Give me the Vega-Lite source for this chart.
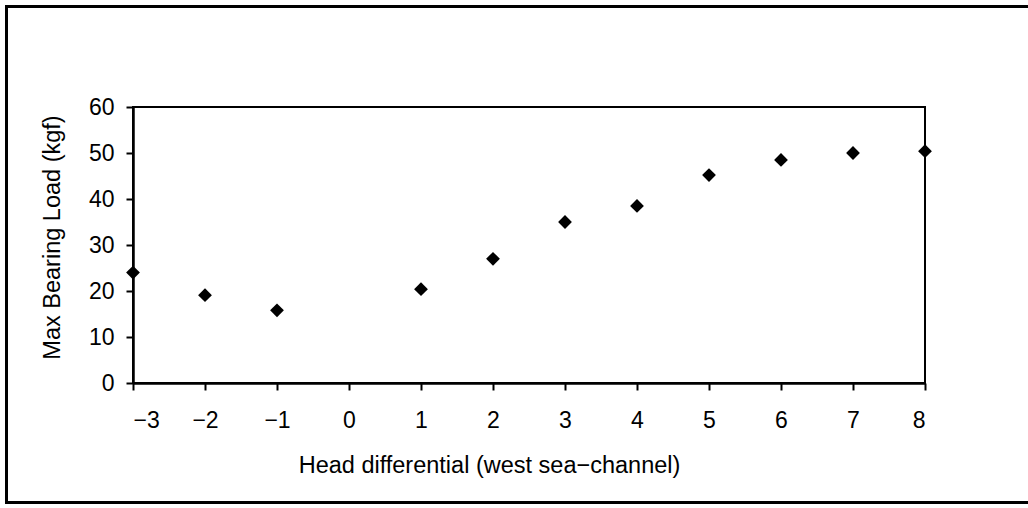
{
  "$schema": "https://vega.github.io/schema/vega-lite/v6.json",
  "autosize": {"type": "none"},
  "width": 792,
  "height": 276,
  "padding": {"left": 133, "top": 107, "right": 103, "bottom": 125},
  "background": "white",
  "config": {
    "view": {"stroke": "black", "strokeWidth": 2},
    "font": "Liberation Sans",
    "axis": {
      "domainColor": "black",
      "domainWidth": 2.5,
      "tickColor": "black",
      "tickWidth": 2,
      "tickSize": 7,
      "grid": false,
      "labelColor": "black",
      "titleColor": "black",
      "labelFont": "Liberation Sans",
      "titleFont": "Liberation Sans",
      "labelFontSize": 23,
      "titleFontSize": 23.5,
      "titleFontWeight": "normal"
    }
  },
  "data": {
    "values": [
      {"head": -3, "load": 24},
      {"head": -2, "load": 19.1},
      {"head": -1, "load": 15.8},
      {"head": 1, "load": 20.4},
      {"head": 2, "load": 27},
      {"head": 3, "load": 35},
      {"head": 4, "load": 38.5},
      {"head": 5, "load": 45.2},
      {"head": 6, "load": 48.5},
      {"head": 7, "load": 50},
      {"head": 8, "load": 50.4}
    ]
  },
  "layer": [
    {
      "mark": {"type": "rect", "fill": null, "stroke": "black", "strokeWidth": 2.5, "clip": false},
      "encoding": {
        "x": {"datum": -4.76, "type": "quantitative"},
        "x2": {"datum": 12},
        "y": {"datum": 81.9, "type": "quantitative"},
        "y2": {"datum": -25.9}
      }
    },
    {
      "mark": {"type": "point", "shape": "diamond", "filled": true, "color": "black", "size": 190, "opacity": 1, "clip": false},
      "encoding": {
        "x": {
          "field": "head",
          "type": "quantitative",
          "scale": {"domain": [-3, 8], "nice": false, "zero": false},
          "axis": {
            "values": [-3, -2, -1, 0, 1, 2, 3, 4, 5, 6, 7, 8],
            "format": "d",
            "title": "Head differential (west sea−channel)",
            "labelPadding": 19,
            "titlePadding": 21,
            "titleX": 356
          }
        },
        "y": {
          "field": "load",
          "type": "quantitative",
          "scale": {"domain": [0, 60], "nice": false},
          "axis": {
            "values": [0, 10, 20, 30, 40, 50, 60],
            "format": "d",
            "title": "Max Bearing Load (kgf)",
            "labelPadding": 12,
            "titlePadding": 24,
            "titleY": 130
          }
        }
      }
    }
  ]
}
